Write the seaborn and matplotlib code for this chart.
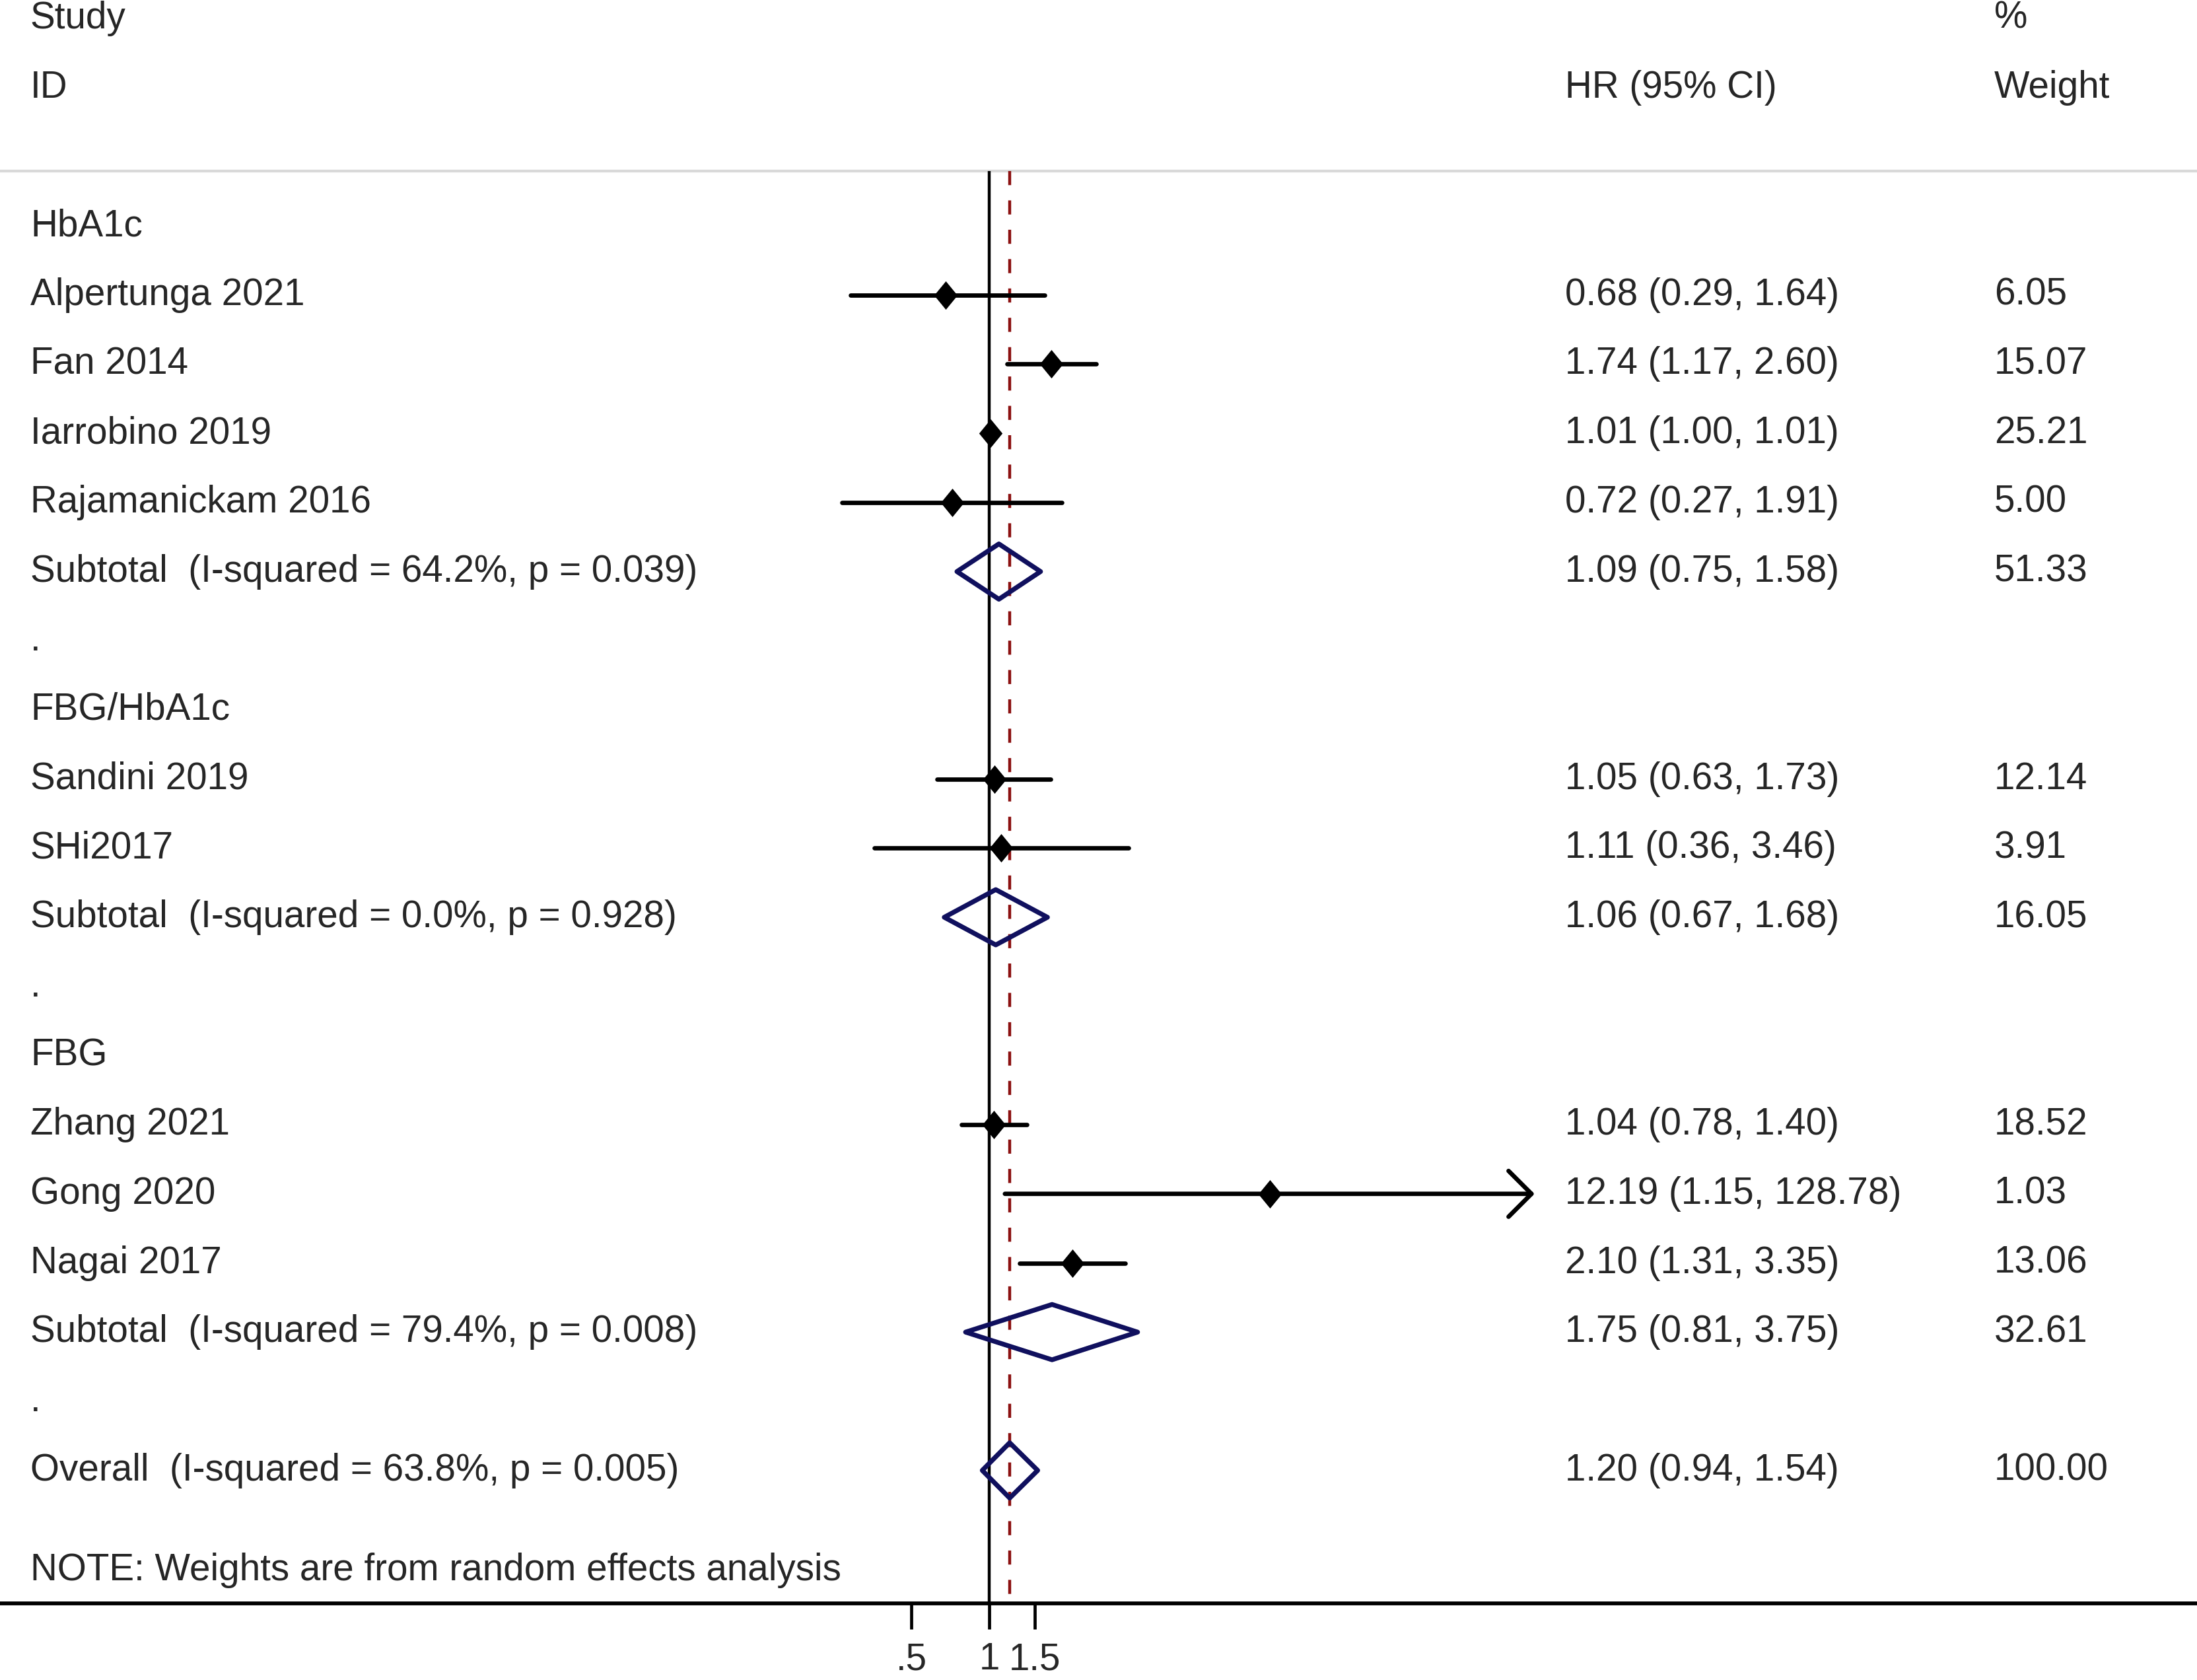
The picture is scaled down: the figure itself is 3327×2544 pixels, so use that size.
import numpy as np
import pandas as pd
import matplotlib
matplotlib.use("Agg")
import matplotlib.pyplot as plt
from matplotlib.path import Path
from matplotlib.patches import Polygon, FancyArrowPatch
import matplotlib.transforms as mtransforms
import seaborn as sns

# ---------------- data ----------------
labels = ["HbA1c", "Alpertunga 2021", "Fan 2014", "Iarrobino 2019", "Rajamanickam 2016",
          "Subtotal  (I-squared = 64.2%, p = 0.039)", ".",
          "FBG/HbA1c", "Sandini 2019", "SHi2017",
          "Subtotal  (I-squared = 0.0%, p = 0.928)", ".",
          "FBG", "Zhang 2021", "Gong 2020", "Nagai 2017",
          "Subtotal  (I-squared = 79.4%, p = 0.008)", ".",
          "Overall  (I-squared = 63.8%, p = 0.005)"]
kinds = ["group", "study", "study", "study", "study", "pool", "dot",
         "group", "study", "study", "pool", "dot",
         "group", "study", "study", "study", "pool", "dot", "pool"]
hr = [np.nan, 0.68, 1.74, 1.01, 0.72, 1.09, np.nan,
      np.nan, 1.05, 1.11, 1.06, np.nan,
      np.nan, 1.04, 12.19, 2.10, 1.75, np.nan, 1.20]
lo = [np.nan, 0.29, 1.17, 1.00, 0.27, 0.75, np.nan,
      np.nan, 0.63, 0.36, 0.67, np.nan,
      np.nan, 0.78, 1.15, 1.31, 0.81, np.nan, 0.94]
hi = [np.nan, 1.64, 2.60, 1.01, 1.91, 1.58, np.nan,
      np.nan, 1.73, 3.46, 1.68, np.nan,
      np.nan, 1.40, 128.78, 3.35, 3.75, np.nan, 1.54]
weights = ["", "6.05", "15.07", "25.21", "5.00", "51.33", "",
           "", "12.14", "3.91", "16.05", "",
           "", "18.52", "1.03", "13.06", "32.61", "", "100.00"]
overall_hr = 1.20
arrow_rows = ["Gong 2020"]
tick_vals = [0.5, 1, 1.5]
tick_labels = [".5", "1", "1.5"]
note = "NOTE: Weights are from random effects analysis"

df = pd.DataFrame({"label": labels, "kind": kinds, "hr": hr, "lo": lo, "hi": hi,
                   "weight": weights})
df["row"] = np.arange(len(df))

# ---------------- layout ----------------
W, H, DPI = 3327, 2544, 100
X1_PX = 1498.0        # pixel position of HR = 1
PX_PER_LN = 170.0     # pixels per unit of ln(HR)
Y0_PX = 342.0         # pixel y of row 0
ROW_PX = 104.7        # pixels per row
FS = 40.8

sns.set_theme(style="white")
plt.rcParams["font.family"] = ["Liberation Sans", "DejaVu Sans"]

fig = plt.figure(figsize=(W / DPI, H / DPI), dpi=DPI)
ax = fig.add_axes([0, 0, 1, 1])
ax.set_xscale("log")
ax.set_xlim(np.exp(-X1_PX / PX_PER_LN), np.exp((W - X1_PX) / PX_PER_LN))
ax.set_ylim((H - Y0_PX) / ROW_PX, -Y0_PX / ROW_PX)
ax.axis("off")

blend = mtransforms.blended_transform_factory(ax.transAxes, ax.transData)

top_row = -0.79
axis_row = 19.92
note_row = 19.45

# header
LEFT_X, HR_X, WT_X = 0.0138, 0.7125, 0.9077
ax.text(LEFT_X, -3, "Study", transform=blend, fontsize=FS, va="center", ha="left")
ax.text(LEFT_X, -2, "ID", transform=blend, fontsize=FS, va="center", ha="left")
ax.text(HR_X, -2, "HR (95% CI)", transform=blend, fontsize=FS, va="center", ha="left")
ax.text(WT_X, -3, "%", transform=blend, fontsize=FS, va="center", ha="left")
ax.text(WT_X, -2, "Weight", transform=blend, fontsize=FS, va="center", ha="left")

# separators
ax.plot([0, 1], [top_row, top_row], transform=blend, color="#d9d9d9", lw=3, solid_capstyle="butt")
ax.plot([0, 1], [axis_row, axis_row], transform=blend, color="black", lw=4.2, solid_capstyle="butt")

# reference lines
ax.plot([1, 1], [top_row, axis_row], color="black", lw=3.2, solid_capstyle="butt")
ax.plot([overall_hr, overall_hr], [top_row, axis_row], color="#8b1010", lw=3.2,
        dashes=(4.8, 5.2), solid_capstyle="butt")

# ticks
tick_len = 0.38
for tv, tl in zip(tick_vals, tick_labels):
    ax.plot([tv, tv], [axis_row, axis_row + tick_len], color="black", lw=3.4,
            solid_capstyle="butt")
    ax.text(tv, axis_row + 0.56, tl, fontsize=FS, ha="center", va="top")

# left labels and right-side values
for _, r in df.iterrows():
    ax.text(LEFT_X, r["row"], r["label"], transform=blend, fontsize=FS,
            va="center", ha="left")
    if not np.isnan(r["hr"]):
        ax.text(HR_X, r["row"], f"{r['hr']:.2f} ({r['lo']:.2f}, {r['hi']:.2f})",
                transform=blend, fontsize=FS, va="center", ha="left")
        ax.text(WT_X, r["row"], r["weight"], transform=blend, fontsize=FS,
                va="center", ha="left")

ax.text(LEFT_X, note_row, note, transform=blend, fontsize=FS, va="center", ha="left")

# study CIs
studies = df[df["kind"] == "study"]
for _, r in studies.iterrows():
    if r["label"] in arrow_rows:
        arr = FancyArrowPatch((r["lo"], r["row"]), (r["hi"], r["row"]),
                              arrowstyle="->,head_length=1.25,head_width=1.25",
                              mutation_scale=20, color="black", lw=4.8,
                              shrinkA=0, shrinkB=0, capstyle="round", joinstyle="round")
        ax.add_patch(arr)
    else:
        ax.plot([r["lo"], r["hi"]], [r["row"], r["row"]], color="black", lw=4.8,
                solid_capstyle="round")

# study point estimates (diamonds)
diamond = Path([(0, 1), (0.82, 0), (0, -1), (-0.82, 0), (0, 1)],
               [Path.MOVETO, Path.LINETO, Path.LINETO, Path.LINETO, Path.CLOSEPOLY])
sns.scatterplot(data=studies, x="hr", y="row", marker=diamond, s=31 ** 2,
                color="black", edgecolor="black", linewidth=0, ax=ax, legend=False, zorder=5)

# pooled diamonds
half_h = 0.4
for _, r in df[df["kind"] == "pool"].iterrows():
    poly = Polygon([(r["lo"], r["row"]), (r["hr"], r["row"] - half_h),
                    (r["hi"], r["row"]), (r["hr"], r["row"] + half_h)],
                   closed=True, fill=False, edgecolor="#10105e", lw=5.2,
                   joinstyle="round", zorder=6)
    ax.add_patch(poly)

ax.set_xlabel("")
ax.set_ylabel("")
fig.savefig("out.png", dpi=DPI, facecolor="white")
